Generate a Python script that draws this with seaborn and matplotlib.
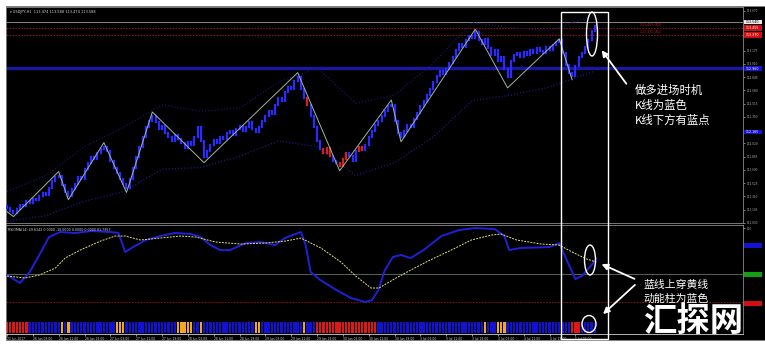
import matplotlib
matplotlib.use("Agg")
import matplotlib.pyplot as plt
import seaborn as sns
import pandas as pd
from matplotlib.patches import Rectangle, Ellipse, FancyArrowPatch

sns.set_theme(style="dark")
plt.rcParams['font.family'] = ['Noto Sans CJK SC', 'DejaVu Sans']

# ---------------- data ----------------
closes = [111.22, 111.18, 111.15,
          111.20, 111.26, 111.24, 111.30, 111.28, 111.33, 111.31, 111.36, 111.40, 111.38, 111.47, 111.55, 111.60, 111.62,
          111.50, 111.42, 111.36,
          111.45, 111.52, 111.60, 111.58, 111.70, 111.78, 111.85, 111.82, 111.90, 111.95, 111.98,
          111.92, 111.80, 111.72, 111.65, 111.58, 111.52, 111.46,
          111.58, 111.72, 111.85, 111.98, 112.10, 112.22, 112.30, 112.36,
          112.28, 112.20, 112.24, 112.15, 112.10, 112.05, 112.12, 112.08, 112.02, 111.96, 112.04, 112.00, 112.10, 112.22, 112.05, 111.85,
          111.92, 112.00, 112.06, 112.02, 112.10, 112.08, 112.15, 112.18, 112.12, 112.20, 112.24, 112.18, 112.22, 112.28, 112.20,
          112.16, 112.22, 112.30, 112.36, 112.42, 112.38, 112.50, 112.58, 112.55, 112.66, 112.72, 112.70, 112.80, 112.84,
          112.70, 112.58, 112.50, 112.36, 112.22, 112.05, 111.95, 111.90, 111.96, 111.86, 111.80, 111.78, 111.74,
          111.82, 111.90, 111.86, 111.80, 111.92, 111.98, 111.94, 112.00, 112.10, 112.18, 112.25, 112.30, 112.36, 112.42, 112.48, 112.50,
          112.30, 112.15, 112.10,
          112.18, 112.25, 112.22, 112.32, 112.40, 112.48, 112.55, 112.62, 112.70, 112.78, 112.86, 112.92, 112.88, 112.95, 113.02,
          113.10, 113.18, 113.25, 113.22, 113.30, 113.36, 113.33, 113.40,
          113.30, 113.25, 113.32, 113.20, 113.12, 113.18, 113.05, 113.10, 112.95, 112.85,
          113.05, 113.12, 113.15, 113.10, 113.16, 113.12, 113.18, 113.14, 113.20, 113.17, 113.15, 113.22, 113.18, 113.24, 113.28, 113.30,
          113.15, 113.00, 112.90, 112.86,
          112.98, 113.10, 113.15, 113.22, 113.30, 113.42, 113.48]
first_open = 111.24
red_candles = [93, 98, 99, 100, 103, 104, 105, 109, 110]

zigzag_bar = [0, 2, 16, 19, 30, 37, 45, 61, 90, 103, 119, 122, 145, 155, 171, 175]
zigzag_price = [111.17, 111.11, 111.67, 111.32, 112.03, 111.41, 112.41, 111.78, 112.90,
                111.68, 112.56, 112.04, 113.44, 112.71, 113.32, 112.81]

band_bar = [0, 12, 24, 36, 48, 60, 72, 84, 96, 108, 120, 132, 144, 156, 168, 182]
band_lower = [111.05, 111.12, 111.30, 111.42, 111.70, 111.72, 111.86, 112.05, 111.98, 111.62, 111.78, 112.10,
              112.55, 112.62, 112.72, 112.92]
band_upper = [111.42, 111.62, 111.98, 112.22, 112.50, 112.42, 112.46, 112.78, 112.96, 112.52, 112.62, 113.02,
              113.52, 113.46, 113.42, 113.62]

level_grey = 113.53
level_red = [113.455, 113.37]
level_red_labels = ["113.455 (R2)", "113.370 (R1)"]
level_blue = 112.96

rsi_bar = [0, 2.5, 4, 7, 10, 13, 16.5, 21, 26, 32, 34.5, 36.6, 39, 43, 47.5, 52, 57, 60, 63, 66, 69, 74,
           78.5, 83, 86, 91, 92.5, 94, 97, 102, 106.5, 111, 113, 115, 117, 119.5, 122, 125, 129, 134.5, 140,
           145, 151, 154, 155.5, 159, 168, 171, 174, 176, 178, 181, 182.5]
rsi_val = [48.9, 43.5, 40.2, 52, 70.7, 90.2, 95.7, 94.6, 96.7, 95.7, 94.6, 73.9, 79.3, 87, 91.3, 94.6, 93.5,
           90.2, 81.5, 76, 76, 83.7, 84.8, 81.5, 89.1, 95.7, 81.5, 52.2, 43.5, 32.6, 23.9, 19.6, 21.7, 32.6,
           54.3, 68.5, 70.7, 67.4, 76.1, 91.3, 97.8, 100, 98.9, 91.3, 76.1, 78.3, 79.3, 83.7, 59.8, 44.6, 47.8,
           59.8, 67]
sig_bar = [0, 5.6, 10, 15, 18, 22.7, 29, 33.5, 36.6, 41.3, 47.5, 53.7, 58.4, 64.6, 72.4, 80, 86.3, 91,
           97.2, 103.4, 108, 112.7, 115.2, 120.5, 125, 131, 137.6, 143.8, 150, 153, 157.8, 165.5, 171, 175,
           179.5, 182.5]
sig_val = [47.8, 45.7, 48.9, 56.5, 67.4, 76.1, 85.9, 91.3, 91.3, 87, 89.1, 91.3, 90.2, 84.8, 82.6, 83.7,
           85.9, 89.1, 78.3, 63, 47.8, 34.8, 34.8, 45.7, 54.3, 65.2, 76.1, 87, 92.4, 93.5, 87, 82.6, 81.5,
           73.9, 66.3, 63]
hist_runs = [('r', 7), ('b', 10), ('o', 1), ('b', 1), ('o', 1), ('b', 14), ('o', 3), ('b', 16), ('o', 5),
             ('b', 2), ('o', 1), ('b', 16), ('o', 2), ('b', 13), ('o', 1), ('b', 3), ('r', 19), ('b', 33),
             ('o', 1), ('b', 3), ('o', 3), ('b', 20), ('r', 3), ('b', 5)]

time_labels = ["23 Jun 2017", "26 Jun 03:00", "26 Jun 11:00", "26 Jun 19:00", "27 Jun 03:00", "27 Jun 11:00",
               "27 Jun 19:00", "28 Jun 03:00", "28 Jun 11:00", "28 Jun 19:00", "29 Jun 03:00", "29 Jun 11:00",
               "29 Jun 19:00", "30 Jun 03:00", "30 Jun 11:00", "30 Jun 19:00", "3 Jul 03:00", "3 Jul 11:00",
               "3 Jul 19:00", "4 Jul 03:00", "4 Jul 11:00", "4 Jul 19:00", "5 Jul 03:00"]
price_ticks = [113.670, 113.175, 113.010, 112.845, 112.680, 112.515, 112.350, 112.020, 111.855,
               111.690, 111.525, 111.360, 111.195, 111.030]
price_tick_labels = ["113.670", "113.175", "113.010", "112.845", "112.680", "112.515", "112.350",
                     "112.020", "111.855", "111.690", "111.525", "111.360", "111.195", "111.030"]

# ---------------- layout helpers ----------------
W, H = 765, 346
def fx(x): return x / W
def fy(y): return 1 - y / H

fig = plt.figure(figsize=(7.65, 3.46), dpi=100, facecolor='white')
fig.patches.append(Rectangle((fx(6), fy(340)), (W - 6) / W, (340 - 6) / H, transform=fig.transFigure,
                             facecolor='black', edgecolor='#808080', lw=0.6, zorder=-10))

ax = fig.add_axes([fx(6), fy(223), (743 - 6) / W, (223 - 7) / H])
axi = fig.add_axes([fx(6), fy(334), (743 - 6) / W, (334 - 225) / H])
XL = (-0.31, 227.9)
for a in (ax, axi):
    a.set_facecolor('black')
    a.set_xlim(*XL)
    a.grid(False)
    for s in a.spines.values():
        s.set_color('#8a8a8a')
        s.set_linewidth(0.6)
ax.set_ylim(111.035, 113.716)
axi.set_ylim(-15.2, 103.3)

# ---------------- main price panel ----------------
n = len(closes)
bars = list(range(n))
opens = [first_open] + closes[:-1]
lo = [min(o, c) for o, c in zip(opens, closes)]
hi = [max(o, c) for o, c in zip(opens, closes)]
cols = ['#d42020' if i in red_candles else '#2b2bff' for i in bars]

ax.axhline(level_grey, color='#9a9a9a', lw=0.6, zorder=1)
for lv, lab in zip(level_red, level_red_labels):
    ax.axhline(lv, color='#a81818', lw=0.6, ls=(0, (2, 1.5)), zorder=1)
    ax.text(196, lv + 0.012, lab, color='#b82020', fontsize=2.3, va='bottom', family='DejaVu Sans')
ax.axhline(level_blue, color='#1c1cb0', lw=2.4, alpha=0.9, zorder=1)

band_df = pd.DataFrame({'bar': band_bar, 'lower': band_lower, 'upper': band_upper})
sns.lineplot(data=band_df, x='bar', y='lower', ax=ax, color='#1a1a80', lw=0.9, ls=(0, (1, 1.5)), zorder=2)
sns.lineplot(data=band_df, x='bar', y='upper', ax=ax, color='#141466', lw=0.9, ls=(0, (1, 1.5)), zorder=2)

ax.vlines(bars, lo, hi, colors=cols, lw=1.6, capstyle='projecting', zorder=3)

zz_df = pd.DataFrame({'bar': zigzag_bar, 'price': zigzag_price})
sns.lineplot(data=zz_df, x='bar', y='price', ax=ax, color='#9fb5a5', lw=0.7, zorder=4)

ax.yaxis.tick_right()
ax.set_yticks(price_ticks)
ax.set_yticklabels(price_tick_labels)
ax.tick_params(axis='y', colors='#b0b0b0', labelsize=2.3, length=1.5, width=0.5, pad=1.5, right=True)
ax.set_xticks([])
ax.set_xlabel('')
ax.set_ylabel('')
ax.text(0.006, 0.985, "\u25BE USDJPY,H1  113.474 113.588 113.474 113.588", transform=ax.transAxes,
        color='#d8d8d8', fontsize=2.5, va='top', ha='left', family='DejaVu Sans')

# ---------------- indicator panel ----------------
hist_col = {'r': '#dd1818', 'b': '#1212d0', 'o': '#f0a828'}
hcolors = []
for c, k in hist_runs:
    hcolors += [hist_col[c]] * k
axi.bar(range(len(hcolors)), [11.9] * len(hcolors), bottom=-14.1, width=0.72, color=hcolors, lw=0, zorder=2)

axi.axhline(50, color='#5a7a5a', lw=0.6, zorder=1)
axi.axhline(20, color='#a01010', lw=0.6, ls=(0, (2, 1.5)), zorder=1)

rsi_df = pd.DataFrame({'bar': rsi_bar, 'val': rsi_val})
sig_df = pd.DataFrame({'bar': sig_bar, 'val': sig_val})
sns.lineplot(data=rsi_df, x='bar', y='val', ax=axi, color='#2020d8', lw=1.4, zorder=3)
sns.lineplot(data=sig_df, x='bar', y='val', ax=axi, color='#e6e070', lw=0.7, ls=(0, (2, 1.2)), zorder=4)

axi.yaxis.tick_right()
axi.set_yticks([100])
axi.set_yticklabels(["100"])
axi.tick_params(axis='y', colors='#b0b0b0', labelsize=2.3, length=1.5, width=0.5, pad=1.5, right=True)
axi.set_xticks(list(range(0, 8 * len(time_labels), 8)))
axi.set_xticklabels(time_labels, ha='left', family='DejaVu Sans')
axi.tick_params(axis='x', colors='#d0d0d0', labelsize=2.2, length=1.5, width=0.5, pad=0.8, bottom=True)
axi.spines['bottom'].set_color('#cfcfcf')
axi.set_xlabel('')
axi.set_ylabel('')
axi.text(0.003, 0.975, "RSIOMA(14) 49.6342 0.0000 -10.0000 0.0000 0.0000 81.7957", transform=axi.transAxes,
         color='#d8d8d8', fontsize=2.3, va='top', ha='left', family='DejaVu Sans')

# ---------------- right-axis colored boxes ----------------
def box(y0, y1, color, label=None, tcolor='white'):
    fig.patches.append(Rectangle((fx(743.5), fy(y1)), (762 - 743.5) / W, (y1 - y0) / H,
                                 transform=fig.transFigure, facecolor=color, edgecolor='none', zorder=5))
    if label:
        fig.text(fx(746), fy((y0 + y1) / 2), label, color=tcolor, fontsize=2.3, va='center', ha='left',
                 family='DejaVu Sans', zorder=6)

box(19.5, 24, '#e8e8e8', "113.540", 'black')
box(25, 30.5, '#d01010', "113.455")
box(32, 37.5, '#d01010', "113.370")
box(66, 71, '#1414d0', "112.960")
box(130, 134.5, '#1414d0', "112.165")
box(243, 247.5, '#1414d0')
box(272, 276.5, '#12a012')
box(301, 305.5, '#d01010')

# ---------------- annotations ----------------
fig.patches.append(Rectangle((fx(561), fy(339)), (608 - 561) / W, (339 - 12) / H, transform=fig.transFigure,
                             facecolor='none', edgecolor='white', lw=1.0, zorder=7))
for cx, cy, w, h in [(592, 34, 11, 44), (590, 260, 11, 30), (589, 324, 14, 17)]:
    fig.patches.append(Ellipse((fx(cx), fy(cy)), w / W, h / H, transform=fig.transFigure,
                               facecolor='none', edgecolor='white', lw=1.0, zorder=8))
for (x0, y0), (x1, y1) in [((628, 86), (600, 48)), ((637, 280), (599, 263)), ((637, 283), (601, 316))]:
    fig.patches.append(FancyArrowPatch((fx(x0), fy(y0)), (fx(x1), fy(y1)), transform=fig.transFigure,
                                       arrowstyle='-|>', mutation_scale=9, color='white', lw=1.3, zorder=9))

cjk = ['Noto Sans CJK SC', 'DejaVu Sans']
for txt, y in [("做多进场时机", 90), ("K线为蓝色", 105), ("K线下方有蓝点", 120)]:
    fig.text(fx(635), fy(y), txt, color='white', fontsize=8.2, va='center', ha='left', family=cjk, zorder=10)
for txt, y in [("蓝线上穿黄线", 285), ("动能柱为蓝色", 299)]:
    fig.text(fx(643), fy(y), txt, color='white', fontsize=7.8, va='center', ha='left', family=cjk, zorder=10)

fig.text(fx(693), fy(322), "汇探网", color='white', fontsize=24, fontweight='bold', va='center', ha='center',
         family=cjk, zorder=11)

fig.savefig("out.png", dpi=100, facecolor=fig.get_facecolor())
